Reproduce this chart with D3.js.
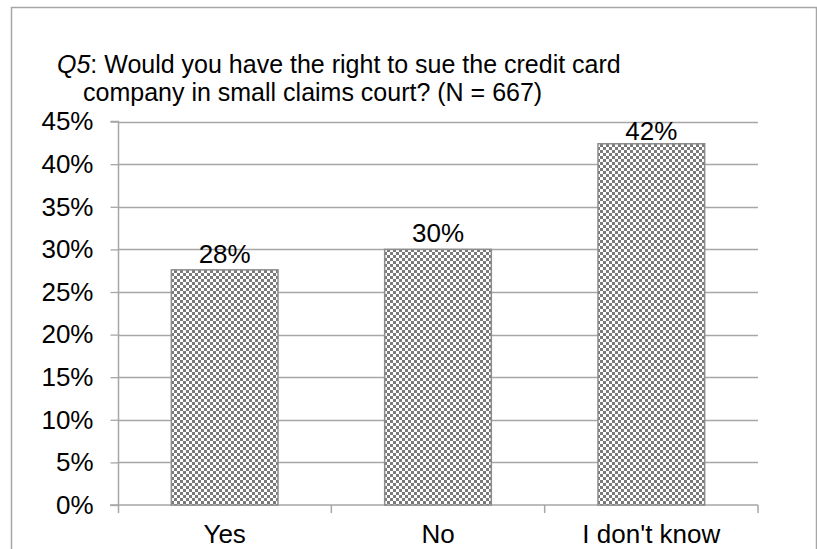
<!DOCTYPE html>
<html>
<head>
<meta charset="utf-8">
<script src="https://cdn.jsdelivr.net/npm/d3@7"></script>
<style>
  html, body { margin: 0; padding: 0; background: #fff; }
  svg { display: block; font-family: "Liberation Sans", Arial, sans-serif; }
</style>
</head>
<body>
<svg id="chart" width="817" height="549"></svg>
<script>
const categories = ["Yes", "No", "I don't know"];
const values = [0.276, 0.300, 0.424];
const dataLabels = ["28%", "30%", "42%"];
const yTicks = [0, 0.05, 0.10, 0.15, 0.20, 0.25, 0.30, 0.35, 0.40, 0.45];
const titleLine1 = ["Q5", ": Would you have the right to sue the credit card"];
const titleLine2 = "company in small claims court? (N = 667)";

const svg = d3.select("#chart");
const fs = 26;
const titleFs = 25;
const gridColor = "#a6a6a6";

const plot = { left: 118, right: 758, top: 121.6, bottom: 505 };

// outer border
svg.append("rect")
  .attr("x", 11.5).attr("y", 7.5)
  .attr("width", 805).attr("height", 600)
  .attr("fill", "none").attr("stroke", gridColor).attr("stroke-width", 1.5);

// pattern
const defs = svg.append("defs");
const pat = defs.append("pattern")
  .attr("id", "checker").attr("patternUnits", "userSpaceOnUse")
  .attr("width", 6).attr("height", 6);
pat.append("rect").attr("width", 6).attr("height", 6).attr("fill", "#ffffff");
pat.append("rect").attr("x", 0).attr("y", 0).attr("width", 3).attr("height", 3).attr("fill", "#7a7a7a");
pat.append("rect").attr("x", 3).attr("y", 3).attr("width", 3).attr("height", 3).attr("fill", "#7a7a7a");

const x = d3.scaleBand().domain(categories).range([plot.left, plot.right]).paddingInner(0.5).paddingOuter(0.25);
const xb = d3.scaleBand().domain(categories).range([plot.left, plot.right]);
const y = d3.scaleLinear().domain([0, 0.45]).range([plot.bottom, plot.top]);

// gridlines
svg.append("g").selectAll("line").data(yTicks.filter(d => d > 0)).join("line")
  .attr("x1", plot.left).attr("x2", plot.right)
  .attr("y1", d => Math.round(y(d)) + 0.5).attr("y2", d => Math.round(y(d)) + 0.5)
  .attr("stroke", gridColor).attr("stroke-width", 1.3);

// y axis
const yAxis = d3.axisLeft(y).tickValues(yTicks).tickSize(8).tickPadding(17)
  .tickFormat(d => Math.round(d * 100) + "%");
const gy = svg.append("g").attr("transform", `translate(${plot.left + 0.5},0)`).call(yAxis);
gy.select(".domain").attr("stroke", gridColor).attr("stroke-width", 1.5)
  .attr("d", `M-8,${plot.top}H0V${plot.bottom + 8}`);
gy.selectAll(".tick line").attr("stroke", gridColor).attr("stroke-width", 1.3);
gy.selectAll(".tick text").attr("font-size", fs).attr("fill", "#000")
  .attr("font-family", "Liberation Sans, Arial, sans-serif");

// x axis
const boundaries = categories.map(c => xb(c)).concat([plot.right]);
const gx = svg.append("g");
gx.append("line").attr("x1", plot.left - 8).attr("x2", plot.right)
  .attr("y1", plot.bottom).attr("y2", plot.bottom)
  .attr("stroke", gridColor).attr("stroke-width", 1.5);
gx.selectAll("line.tk").data(boundaries.slice(1)).join("line").attr("class", "tk")
  .attr("x1", d => d).attr("x2", d => d)
  .attr("y1", plot.bottom).attr("y2", plot.bottom + 8)
  .attr("stroke", gridColor).attr("stroke-width", 1.5);
gx.selectAll("text").data(categories).join("text")
  .attr("x", d => xb(d) + xb.bandwidth() / 2)
  .attr("y", 543)
  .attr("text-anchor", "middle").attr("font-size", fs).attr("fill", "#000")
  .text(d => d);

// bars
svg.append("g").selectAll("rect").data(categories).join("rect")
  .attr("x", d => x(d)).attr("width", x.bandwidth())
  .attr("y", (d, i) => y(values[i])).attr("height", (d, i) => plot.bottom - y(values[i]))
  .attr("fill", "url(#checker)").attr("stroke", "#8c8c8c").attr("stroke-width", 1.5);

// data labels
svg.append("g").selectAll("text").data(categories).join("text")
  .attr("x", d => x(d) + x.bandwidth() / 2)
  .attr("y", (d, i) => Math.max(y(values[i]) - 7, plot.top + 18.5))
  .attr("text-anchor", "middle").attr("font-size", fs).attr("fill", "#000")
  .text((d, i) => dataLabels[i]);

// title
const t1 = svg.append("text").attr("x", 57).attr("y", 73).attr("font-size", titleFs).attr("fill", "#000");
t1.append("tspan").attr("font-style", "italic").text(titleLine1[0]);
t1.append("tspan").text(titleLine1[1]);
svg.append("text").attr("x", 83).attr("y", 101).attr("font-size", titleFs).attr("fill", "#000").text(titleLine2);
</script>
</body>
</html>
